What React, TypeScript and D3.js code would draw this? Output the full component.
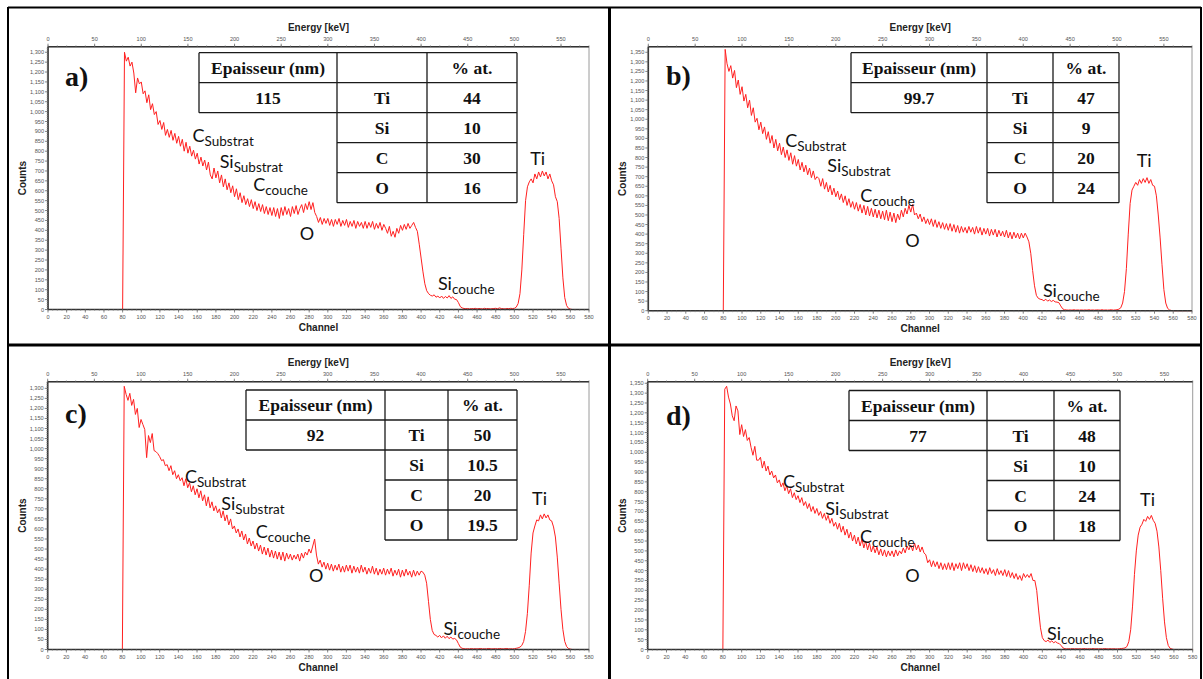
import React from "react";
import * as d3 from "d3";

// ---------- DATA ----------
const CH_START = 80;
const CH_STEP = 2;

// counts per channel, channel 80..580 step 2 (10 values per line = 20 channels)
const countsA = [
  0, 1300, 1255, 1275, 1230, 1250, 1195, 1095, 1170, 1140,
  1150, 1090, 1105, 1045, 1085, 1010, 1040, 985, 1000, 935,
  955, 910, 945, 880, 910, 870, 905, 855, 890, 840,
  875, 825, 860, 800, 845, 790, 825, 775, 805, 760,
  790, 735, 770, 725, 755, 705, 745, 680, 660, 715,
  665, 700, 640, 680, 620, 660, 605, 640, 590, 625,
  570, 610, 555, 590, 540, 575, 530, 560, 520, 555,
  510, 545, 500, 535, 495, 530, 485, 520, 480, 515,
  475, 515, 470, 510, 460, 515, 475, 520, 480, 510,
  470, 520, 485, 525, 480, 510, 530, 490, 535, 505,
  545, 505, 540, 490, 470, 440, 465, 430, 460, 435,
  460, 425, 455, 420, 455, 430, 460, 420, 450, 425,
  455, 415, 445, 420, 450, 410, 445, 420, 440, 410,
  445, 410, 440, 415, 445, 405, 435, 410, 440, 400,
  430, 410, 385, 420, 370, 395, 365, 410, 385, 425,
  400, 430, 405, 435, 410, 425, 440, 415, 395, 330,
  260, 190, 130, 95, 80, 72, 68, 74, 62, 68,
  58, 68, 56, 66, 58, 70, 56, 64, 52, 50,
  35, 15, 8, 5, 4, 5, 3, 5, 4, 6,
  3, 5, 4, 3, 6, 4, 5, 3, 4, 5,
  6, 4, 8, 5, 4, 3, 5, 4, 6, 5,
  6, 12, 30, 80, 200, 380, 550, 620, 645, 660,
  640, 685, 660, 695, 670, 700, 675, 695, 660, 685,
  650, 630, 570, 545, 460, 310, 160, 60, 20, 6,
  2, 0, 0, 0, 0, 0, 0, 0, 0, 0,
  0,
];

const countsB = [
  0, 1365, 1290, 1250, 1280, 1215, 1255, 1165, 1205, 1130,
  1170, 1095, 1130, 1060, 1100, 1020, 1060, 985, 1005, 945,
  985, 925, 960, 895, 935, 875, 915, 850, 895, 835,
  875, 815, 855, 800, 840, 785, 825, 765, 810, 755,
  790, 735, 775, 725, 760, 710, 745, 695, 730, 685,
  700, 690, 650, 690, 635, 670, 620, 655, 605, 640,
  595, 625, 580, 610, 565, 600, 550, 585, 540, 570,
  530, 565, 520, 555, 510, 550, 500, 545, 495, 535,
  490, 530, 485, 525, 480, 520, 475, 525, 470, 515,
  465, 510, 460, 505, 475, 525, 490, 535, 505, 550,
  515, 555, 500, 510, 480, 505, 465, 490, 455, 480,
  450, 480, 440, 475, 435, 465, 430, 460, 425, 455,
  420, 455, 415, 450, 410, 445, 405, 440, 410, 435,
  405, 440, 410, 435, 400, 440, 405, 435, 395, 430,
  400, 430, 390, 425, 395, 425, 385, 420, 390, 415,
  385, 420, 380, 410, 375, 410, 380, 405, 375, 405,
  380, 405, 385, 360, 300, 210, 130, 80, 65, 60,
  58, 52, 60, 50, 56, 48, 54, 46, 45, 42,
  25, 10, 5, 4, 3, 4, 3, 5, 3, 4,
  3, 4, 3, 4, 3, 5, 3, 4, 3, 4,
  4, 3, 5, 3, 4, 3, 4, 5, 3, 4,
  5, 8, 15, 40, 100, 220, 400, 560, 630, 650,
  670, 655, 685, 665, 690, 670, 695, 665, 685, 655,
  650, 600, 500, 380, 240, 110, 40, 12, 4, 1,
  0, 0, 0, 0, 0, 0, 0, 0, 0, 0,
  0,
];

const countsC = [
  0, 1310, 1270, 1240, 1275, 1215, 1245, 1170, 1200, 1105,
  1145, 1120, 1095, 955, 1065, 1030, 1075, 990, 985, 975,
  960, 940, 945, 915, 920, 890, 915, 870, 890, 850,
  870, 840, 855, 815, 850, 805, 830, 785, 815, 770,
  800, 755, 790, 740, 770, 715, 760, 705, 735, 690,
  715, 680, 700, 655, 690, 640, 670, 620, 650, 600,
  615, 580, 600, 560, 590, 545, 575, 525, 555, 515,
  540, 500, 530, 490, 520, 475, 510, 470, 505, 460,
  495, 455, 490, 450, 485, 445, 485, 440, 480, 450,
  475, 445, 470, 450, 475, 440, 480, 455, 485, 470,
  500, 480, 515, 550, 470, 425, 445, 410, 435, 400,
  430, 395, 425, 390, 420, 395, 425, 385, 415, 385,
  420, 390, 420, 380, 415, 385, 410, 380, 420, 385,
  410, 375, 405, 380, 415, 375, 405, 370, 400, 375,
  405, 370, 400, 375, 405, 365, 395, 370, 400, 360,
  395, 365, 400, 370, 390, 360, 395, 365, 390, 370,
  390, 385, 370, 330, 240, 150, 95, 75, 70, 62,
  70, 58, 68, 56, 66, 54, 62, 52, 55, 48,
  30, 12, 6, 4, 3, 4, 3, 5, 3, 4,
  3, 4, 5, 3, 4, 3, 5, 4, 3, 4,
  4, 3, 5, 4, 3, 4, 5, 3, 4, 3,
  4, 6, 8, 12, 20, 40, 90, 180, 320, 480,
  580, 615, 645, 640, 670, 650, 675, 655, 670, 645,
  640, 610, 560, 460, 330, 200, 100, 40, 15, 5,
  2, 0, 0, 0, 0, 0, 0, 0, 0, 0,
  0,
];

const countsD = [
  0, 1320, 1335, 1280, 1245, 1185, 1160, 1235, 1210, 1090,
  1140, 1080, 1115, 1060, 1075, 1025, 985, 1030, 960, 960,
  975, 920, 955, 905, 930, 885, 905, 870, 885, 845,
  860, 825, 845, 805, 830, 790, 815, 770, 795, 760,
  780, 745, 770, 730, 750, 715, 740, 700, 725, 690,
  715, 680, 700, 665, 690, 655, 680, 640, 665, 625,
  645, 610, 640, 595, 625, 580, 610, 565, 595, 550,
  580, 535, 570, 525, 560, 515, 550, 505, 540, 495,
  525, 490, 520, 480, 510, 475, 505, 470, 500, 475,
  500, 470, 505, 475, 500, 485, 515, 490, 525, 505,
  530, 500, 540, 505, 530, 495, 520, 490, 480, 440,
  455, 420, 450, 420, 445, 410, 440, 405, 435, 405,
  440, 405, 440, 400, 435, 410, 440, 400, 440, 410,
  435, 400, 430, 395, 425, 390, 420, 390, 415, 385,
  410, 380, 415, 385, 405, 375, 410, 380, 400, 375,
  405, 370, 400, 365, 390, 360, 385, 355, 375, 350,
  385, 365, 380, 365, 385, 350, 350, 300, 200, 110,
  60, 45, 40, 48, 36, 44, 34, 40, 33, 30,
  20, 8, 4, 3, 4, 3, 5, 3, 4, 3,
  4, 3, 5, 4, 3, 4, 3, 5, 3, 4,
  3, 4, 3, 5, 4, 3, 4, 3, 4, 3,
  3, 4, 5, 6, 8, 15, 40, 100, 220, 380,
  500, 580, 620, 635, 660, 650, 675, 660, 680, 655,
  640, 600, 520, 400, 260, 140, 60, 20, 6, 2,
  0, 0, 0, 0, 0, 0, 0, 0, 0, 0,
  0,
];

const elements = ["Ti", "Si", "C", "O"];
const thicknesses = ["115", "99.7", "92", "77"];
const percentA = ["44", "10", "30", "16"];
const percentB = ["47", "9", "20", "24"];
const percentC = ["50", "10.5", "20", "19.5"];
const percentD = ["48", "10", "24", "18"];
const panelLetters = ["a)", "b)", "c)", "d)"];

const peakMain = ["C", "Si", "C", "O", "Ti", "Si"];
const peakSub = ["Substrat", "Substrat", "couche", "", "", "couche"];
// label anchor (channel, counts) per panel
const labelPosA = [[155, 846], [184, 714], [220, 598], [270, 350], [517, 730], [418, 98]];
const labelPosB = [[146, 854], [191, 725], [226, 568], [274, 332], [521, 750], [421, 71]];
const labelPosC = [[147, 828], [186, 694], [223, 554], [280, 335], [519, 718], [424, 71]];
const labelPosD = [[144, 819], [189, 681], [226, 538], [274, 342], [524, 727], [425, 48]];

const channelTicks = d3.range(0, 581, 20);
const energyTicks = d3.range(0, 551, 50);

// ---------- LAYOUT ----------
const layouts = [
  { x0: 48, x1: 589, yTop: 46.7, yBot: 309.5, yMax: 1328, table: { left: 199, top: 52.7, cols: [138, 90, 90] }, letter: [65, 86] },
  { x0: 648.3, x1: 1192, yTop: 46.7, yBot: 310.7, yMax: 1379, table: { left: 851, top: 52.7, cols: [136, 66, 66] }, letter: [666, 85] },
  { x0: 47.7, x1: 589, yTop: 381.7, yBot: 649.5, yMax: 1333, table: { left: 246, top: 390, cols: [139, 63, 69] }, letter: [65, 423] },
  { x0: 647.7, x1: 1192.7, yTop: 381.7, yBot: 649.5, yMax: 1358, table: { left: 849, top: 390.5, cols: [138, 67, 66] }, letter: [666, 425] },
];

const panelData = [
  { counts: countsA, pct: percentA, labels: labelPosA },
  { counts: countsB, pct: percentB, labels: labelPosB },
  { counts: countsC, pct: percentC, labels: labelPosC },
  { counts: countsD, pct: percentD, labels: labelPosD },
];

const SANS = "'Liberation Sans', Arial, sans-serif";
const SERIF = "'Liberation Serif', 'Times New Roman', serif";
const LABEL_FONT = "Lato, 'Open Sans', sans-serif";
const fmt = d3.format(",");

function Panel({ idx }: { idx: number }) {
  const L = layouts[idx];
  const D = panelData[idx];
  const x = d3.scaleLinear().domain([0, 580]).range([L.x0, L.x1]);
  const xe = d3.scaleLinear().domain([0, 580]).range([L.x0, L.x1]);
  const y = d3.scaleLinear().domain([0, L.yMax]).range([L.yBot, L.yTop]);
  const pts: [number, number][] = D.counts.map((c, i) => [CH_START + i * CH_STEP, c]);
  const line = d3.line<[number, number]>().x((d) => x(d[0])).y((d) => y(d[1]));
  const yTicks = d3.range(0, L.yMax, 50);
  const yMinor = d3.range(0, L.yMax, 10);
  const xMinor = d3.range(0, 581, 5);
  const eMinor = d3.range(0, 581, 10);
  const cx = (L.x0 + L.x1) / 2;
  const cy = (L.yTop + L.yBot) / 2;

  const T = L.table;
  const colX = [T.left, T.left + T.cols[0], T.left + T.cols[0] + T.cols[1], T.left + T.cols[0] + T.cols[1] + T.cols[2]];
  const rh = 30;
  const rowsY = d3.range(0, 6).map((r) => T.top + r * rh);
  const tStroke = "#1a1a1a";
  const cellText = (tx: string, c: number, r: number) => (
    <text
      key={`t${c}-${r}`}
      x={(colX[c] + colX[c + 1]) / 2}
      y={rowsY[r] + rh / 2 + 6}
      textAnchor="middle"
      fontFamily={SERIF}
      fontWeight="bold"
      fontSize={17.5}
      fill="#111"
    >
      {tx}
    </text>
  );

  return (
    <g>
      {/* frame */}
      <rect x={L.x0} y={L.yTop} width={L.x1 - L.x0} height={L.yBot - L.yTop} fill="none" stroke="#9a9a9a" strokeWidth={1} />
      {/* spectrum */}
      <path d={line(pts) || ""} fill="none" stroke="#ff2020" strokeWidth={1} strokeLinejoin="round" />
      {/* axes lines */}
      <line x1={L.x0} x2={L.x0} y1={L.yTop} y2={L.yBot} stroke="#333" strokeWidth={1.6} />
      <line x1={L.x0} x2={L.x1} y1={L.yBot} y2={L.yBot} stroke="#333" strokeWidth={1.6} />
      <line x1={L.x0} x2={L.x1} y1={L.yTop} y2={L.yTop} stroke="#333" strokeWidth={1.4} />
      {/* y ticks */}
      {yMinor.map((t) => (
        <line key={`ym${t}`} x1={L.x0 - 1.5} x2={L.x0} y1={y(t)} y2={y(t)} stroke="#888" strokeWidth={0.6} />
      ))}
      {yTicks.map((t) => (
        <g key={`y${t}`}>
          <line x1={L.x0 - 3} x2={L.x0} y1={y(t)} y2={y(t)} stroke="#666" strokeWidth={0.8} />
          <text x={L.x0 - 4} y={y(t) + 2} textAnchor="end" fontFamily={SANS} fontSize={5.6} fill="#555">
            {fmt(t)}
          </text>
        </g>
      ))}
      {/* x ticks */}
      {xMinor.map((t) => (
        <line key={`xm${t}`} x1={x(t)} x2={x(t)} y1={L.yBot} y2={L.yBot + 1.5} stroke="#888" strokeWidth={0.6} />
      ))}
      {channelTicks.map((t) => (
        <g key={`x${t}`}>
          <line x1={x(t)} x2={x(t)} y1={L.yBot} y2={L.yBot + 3} stroke="#666" strokeWidth={0.8} />
          <text x={x(t)} y={L.yBot + 9.5} textAnchor="middle" fontFamily={SANS} fontSize={5.6} fill="#555">
            {t}
          </text>
        </g>
      ))}
      {/* energy ticks */}
      {eMinor.map((t) => (
        <line key={`em${t}`} x1={xe(t)} x2={xe(t)} y1={L.yTop} y2={L.yTop - 1.5} stroke="#888" strokeWidth={0.6} />
      ))}
      {energyTicks.map((t) => (
        <g key={`e${t}`}>
          <line x1={xe(t)} x2={xe(t)} y1={L.yTop} y2={L.yTop - 3} stroke="#666" strokeWidth={0.8} />
          <text x={xe(t)} y={L.yTop - 5.5} textAnchor="middle" fontFamily={SANS} fontSize={5.6} fill="#555">
            {t}
          </text>
        </g>
      ))}
      {/* axis titles */}
      <text x={cx} y={L.yTop - 16} textAnchor="middle" fontFamily={SANS} fontWeight="bold" fontSize={10} fill="#222">
        Energy [keV]
      </text>
      <text x={cx} y={L.yBot + 21} textAnchor="middle" fontFamily={SANS} fontWeight="bold" fontSize={10} fill="#222">
        Channel
      </text>
      <text
        transform={`translate(${L.x0 - 22},${cy}) rotate(-90)`}
        textAnchor="middle"
        fontFamily={SANS}
        fontWeight="bold"
        fontSize={10}
        fill="#222"
      >
        Counts
      </text>
      {/* panel letter */}
      <text x={L.letter[0]} y={L.letter[1]} fontFamily={SERIF} fontWeight="bold" fontSize={28} fill="#111">
        {panelLetters[idx]}
      </text>
      {/* table */}
      <g>
        <rect x={colX[0]} y={rowsY[0]} width={colX[3] - colX[0]} height={rh * 2} fill="#fff" />
        <rect x={colX[1]} y={rowsY[0]} width={colX[3] - colX[1]} height={rh * 5} fill="#fff" />
        <line x1={colX[0]} x2={colX[3]} y1={rowsY[0]} y2={rowsY[0]} stroke={tStroke} strokeWidth={1.3} />
        <line x1={colX[0]} x2={colX[3]} y1={rowsY[1]} y2={rowsY[1]} stroke={tStroke} strokeWidth={1.3} />
        <line x1={colX[0]} x2={colX[3]} y1={rowsY[2]} y2={rowsY[2]} stroke={tStroke} strokeWidth={1.3} />
        {[3, 4, 5].map((r) => (
          <line key={`h${r}`} x1={colX[1]} x2={colX[3]} y1={rowsY[r]} y2={rowsY[r]} stroke={tStroke} strokeWidth={1.3} />
        ))}
        <line x1={colX[0]} x2={colX[0]} y1={rowsY[0]} y2={rowsY[2]} stroke={tStroke} strokeWidth={1.3} />
        {[1, 2, 3].map((c) => (
          <line key={`v${c}`} x1={colX[c]} x2={colX[c]} y1={rowsY[0]} y2={rowsY[5]} stroke={tStroke} strokeWidth={1.3} />
        ))}
        {cellText("Epaisseur (nm)", 0, 0)}
        {cellText("% at.", 2, 0)}
        {cellText(thicknesses[idx], 0, 1)}
        {elements.map((el, i) => cellText(el, 1, i + 1))}
        {D.pct.map((p, i) => cellText(p, 2, i + 1))}
      </g>
      {/* peak labels */}
      {D.labels.map((p, i) => (
        <text key={`l${i}`} x={x(p[0])} y={y(p[1])} fontFamily={LABEL_FONT} fontSize={18} fill="#111">
          <tspan>{peakMain[i]}</tspan>
          {peakSub[i] ? (
            <tspan fontSize={13.5} dy={4}>
              {peakSub[i]}
            </tspan>
          ) : null}
        </text>
      ))}
    </g>
  );
}

export default function App() {
  return (
    <svg width={1203} height={679} style={{ position: "absolute", left: 0, top: 0, background: "#fff" }}>
      <rect x={0} y={0} width={1203} height={679} fill="#fff" />
      {[0, 1, 2, 3].map((i) => (
        <Panel key={i} idx={i} />
      ))}
      {/* panel borders */}
      <line x1={8} x2={1201} y1={7.5} y2={7.5} stroke="#000" strokeWidth={2} />
      <line x1={8} x2={8} y1={7} y2={679} stroke="#000" strokeWidth={2} />
      <line x1={1201} x2={1201} y1={7} y2={679} stroke="#000" strokeWidth={2} />
      <line x1={8} x2={1201} y1={345} y2={345} stroke="#000" strokeWidth={3} />
      <line x1={609.5} x2={609.5} y1={7} y2={679} stroke="#000" strokeWidth={3} />
    </svg>
  );
}
